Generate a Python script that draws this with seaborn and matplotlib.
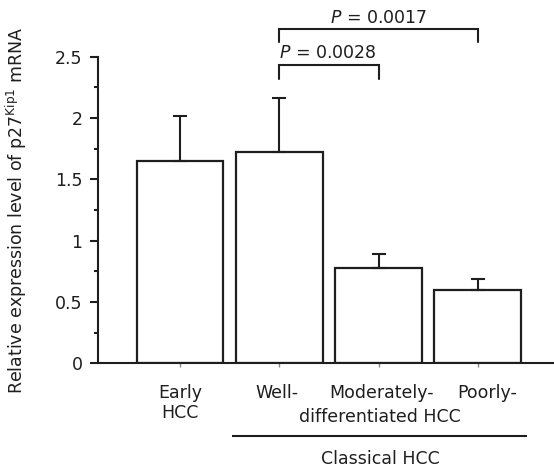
import numpy as np
import pandas as pd
import matplotlib
matplotlib.use("Agg")
import matplotlib.pyplot as plt
import matplotlib.transforms as mtransforms
import seaborn as sns

# Relative p27Kip1 mRNA expression by HCC group (mean with upper error)
groups = ["Early HCC", "Well-", "Moderately-", "Poorly-"]
tick_labels = ["Early\nHCC", "Well-", "Moderately-", "Poorly-"]
expression = [1.65, 1.72, 0.78, 0.595]
error_upper = [0.37, 0.44, 0.11, 0.095]

# Pairwise comparisons (indices into groups) and their P values
comparisons = [(1, 2), (1, 3)]
p_values = ["0.0028", "0.0017"]

y_ticks = [0, 0.5, 1, 1.5, 2, 2.5]
y_tick_labels = ["0", "0.5", "1", "1.5", "2", "2.5"]

sns.set_style("ticks")
plt.rcParams["font.family"] = ["DejaVu Sans"]
plt.rcParams["mathtext.fontset"] = "dejavusans"

ink = "#1e1e1e"
df = pd.DataFrame({"group": groups, "value": expression})

fig = plt.figure(figsize=(5.54, 4.67), dpi=100)
ax = fig.add_axes([97.7 / 554, 103.7 / 467, (554 - 97.7) / 554, 306.5 / 467])

sns.barplot(data=df, x="group", y="value", order=groups, color="white",
            saturation=1, edgecolor=ink, linewidth=1.6, width=0.875,
            errorbar=None, ax=ax, zorder=2)

xpos = np.arange(len(groups))
ax.errorbar(xpos, expression, yerr=[np.zeros(len(groups)), error_upper],
            fmt="none", ecolor=ink, elinewidth=1.5, capsize=5, capthick=1.5,
            zorder=3)

ax.set_xlim(-0.829, 3.766)
ax.set_ylim(0, 2.5)
ax.set_xlabel("")
ax.set_ylabel(r"Relative expression level of p27$^{\mathregular{Kip1}}$ mRNA",
              fontsize=12.5, color=ink, labelpad=19)

for side in ("top", "right"):
    ax.spines[side].set_visible(False)
for side in ("left", "bottom"):
    ax.spines[side].set_color(ink)
    ax.spines[side].set_linewidth(1.5)
ax.spines["left"].set_bounds(0, 2.5)

ax.set_yticks(y_ticks)
ax.set_yticklabels(y_tick_labels)
ax.set_yticks(np.arange(0.25, 2.5, 0.5), minor=True)
ax.tick_params(axis="y", which="major", length=6, width=1.5, color=ink,
               labelsize=12.5, labelcolor=ink, pad=5)
ax.tick_params(axis="y", which="minor", length=3, width=1.5, color=ink)

ax.set_xticks(xpos)
ax.set_xticklabels(tick_labels, linespacing=1.15)
ax.tick_params(axis="x", length=3, width=1, color="#888888",
               labelsize=12.5, labelcolor=ink, pad=12)

# small horizontal nudges of the category names
label_shift_px = [0, -2, 2.5, 9.5]
for lab, dx in zip(ax.get_xticklabels(), label_shift_px):
    lab.set_transform(lab.get_transform() +
                      mtransforms.ScaledTranslation(dx / 100, 0, fig.dpi_scale_trans))

# shared second line and grouping bar under the classical HCC columns
ax.annotate("differentiated HCC", xy=(2.01, 0), xycoords=("data", "axes fraction"),
            xytext=(0, -58.4 * 0.72), textcoords="offset points",
            ha="center", va="baseline", fontsize=12.5, color=ink)
bar_trans = mtransforms.offset_copy(
    mtransforms.blended_transform_factory(ax.transData, ax.transAxes),
    fig=fig, y=-72.4 * 0.72, units="points")
ax.plot([0.52, 3.49], [0, 0], transform=bar_trans, color=ink, lw=1.5,
        clip_on=False, solid_capstyle="butt")
ax.annotate("Classical HCC", xy=(2.02, 0), xycoords=("data", "axes fraction"),
            xytext=(0, -100.7 * 0.72), textcoords="offset points",
            ha="center", va="baseline", fontsize=12.5, color=ink)

# significance brackets
bracket_levels = [(2.32, 2.43, 2.488), (2.62, 2.73, 2.778)]
for (i, j), p, (leg, top, text_y) in zip(comparisons, p_values, bracket_levels):
    ax.plot([i, i, j, j], [leg, top, top, leg], color=ink, lw=1.5,
            clip_on=False, solid_joinstyle="miter")
    ax.text((i + j) / 2 if j - i > 1 else i + 0.49, text_y,
            r"$\mathit{P}$ = " + p, ha="center", va="baseline",
            fontsize=12.5, color=ink, clip_on=False)

fig.savefig("out.png", dpi=100, facecolor="white")
